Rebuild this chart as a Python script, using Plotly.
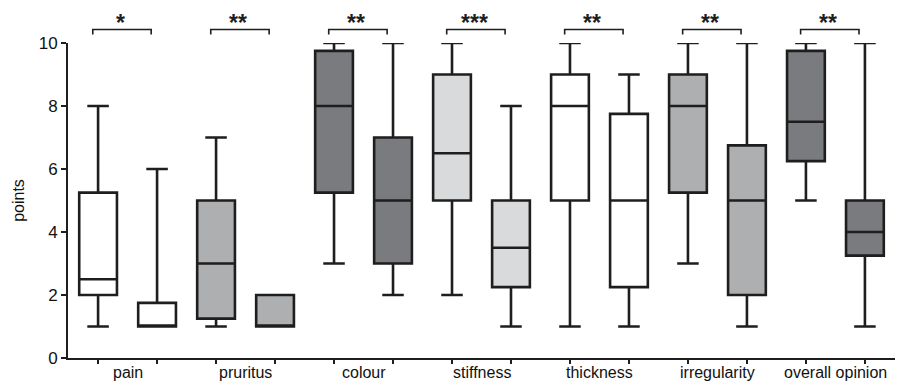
import plotly.graph_objects as go

categories = ["pain", "pruritus", "colour", "stiffness", "thickness", "irregularity", "overall opinion"]
significance = ["*", "**", "**", "***", "**", "**", "**"]
# each category has two boxes (before / after)
lower = [1, 1, 1, 1, 3, 2, 2, 1, 1, 1, 3, 1, 5, 1]
q1 = [2, 1, 1.25, 1, 5.25, 3, 5, 2.25, 5, 2.25, 5.25, 2, 6.25, 3.25]
median = [2.5, 1, 3, 1, 8, 5, 6.5, 3.5, 8, 5, 8, 5, 7.5, 4]
q3 = [5.25, 1.75, 5, 2, 9.75, 7, 9, 5, 9, 7.75, 9, 6.75, 9.75, 5]
upper = [8, 6, 7, 2, 10, 10, 10, 8, 10, 9, 10, 10, 10, 10]
cat_colors = ["#ffffff", "#aeafb1", "#7a7b7e", "#d9dadb", "#ffffff", "#aeafb1", "#7a7b7e"]
y_ticks = [0, 2, 4, 6, 8, 10]

line_col = "#1e1e1e"
font_family = "Liberation Sans, Arial, sans-serif"

fig = go.Figure()
positions = list(range(len(lower)))
for i in positions:
    c = cat_colors[i // 2]
    fig.add_trace(go.Box(
        x=[i], q1=[q1[i]], median=[median[i]], q3=[q3[i]],
        lowerfence=[lower[i]], upperfence=[upper[i]],
        width=0.64, whiskerwidth=0.57,
        fillcolor=c, line=dict(color=line_col, width=2.6),
        boxpoints=False, showlegend=False, hoverinfo="skip",
    ))

shapes = []
annotations = []
for k, cat in enumerate(categories):
    a = 2 * k
    b = 2 * k + 1
    x0 = a - 0.09
    x1 = b - 0.1
    shapes.append(dict(
        type="path", xref="x", yref="paper",
        path=f"M {x0},1.027 L {x0},1.043 L {x1},1.043 L {x1},1.027",
        line=dict(color=line_col, width=1.6),
    ))
    annotations.append(dict(
        x=(x0 + x1) / 2 - 0.03, y=1.043, xref="x", yref="paper",
        text="<b>" + significance[k] + "</b>", showarrow=False, yanchor="bottom",
        yshift=-9, font=dict(family=font_family, size=23, color=line_col),
    ))
    annotations.append(dict(
        x=(a + b) / 2, y=0, xref="x", yref="paper",
        text=cat, showarrow=False, yanchor="top", yshift=-4,
        font=dict(family=font_family, size=16, color="#111"),
    ))

fig.update_layout(
    width=898, height=383,
    margin=dict(l=68, r=3, t=43, b=25),
    plot_bgcolor="white", paper_bgcolor="white",
    shapes=shapes, annotations=annotations,
    xaxis=dict(
        range=[-0.51, 13.51], tickvals=positions, ticktext=[""] * len(positions),
        ticks="outside", ticklen=4, tickwidth=1.5, tickcolor=line_col,
        showline=True, linecolor=line_col, linewidth=1.7,
        showgrid=False, zeroline=False, fixedrange=True,
    ),
    yaxis=dict(
        range=[0, 10], tickvals=y_ticks,
        ticks="outside", ticklen=5, tickwidth=1.5, tickcolor=line_col,
        showline=True, linecolor=line_col, linewidth=1.7,
        showgrid=False, zeroline=False,
        tickfont=dict(family=font_family, size=17, color="#111"),
        title=dict(text="points", standoff=10,
                   font=dict(family=font_family, size=16, color="#111")),
    ),
)

fig.write_html("out.html")
